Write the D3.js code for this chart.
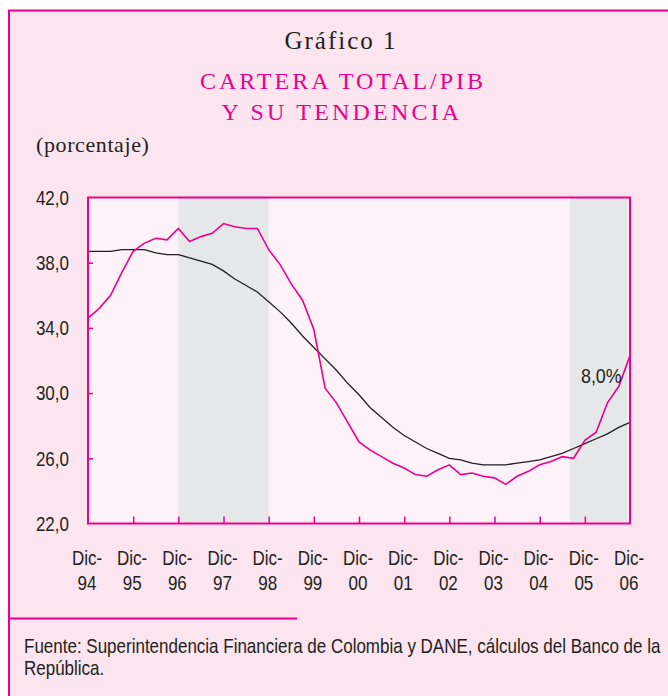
<!DOCTYPE html>
<html lang="es">
<head>
<meta charset="UTF-8">
<title>Cartera total/PIB y su tendencia</title>
<style>
  body { margin: 0; overflow: hidden; background: #fff; }
  .sans { font-family: "Liberation Sans", Arial, sans-serif; fill: #231f20; }
  .serif { font-family: "Liberation Serif", "DejaVu Serif", serif; }
</style>
</head>
<body>
<script src="https://cdnjs.cloudflare.com/ajax/libs/d3/7.8.2/d3.min.js"></script>
<script>
// quarterly observations, Dic-94 .. Dic-06
const cartera = [34.6, 35.2, 36.0, 37.4, 38.7, 39.2, 39.5, 39.4, 40.1, 39.3, 39.6, 39.8,
  40.4, 40.2, 40.1, 40.1, 38.8, 37.9, 36.7, 35.7, 33.9, 30.3, 29.4, 28.2,
  27.0, 26.5, 26.1, 25.7, 25.4, 25.0, 24.9, 25.3, 25.6, 25.0, 25.1, 24.9,
  24.8, 24.4, 24.9, 25.2, 25.6, 25.8, 26.1, 26.0, 27.1, 27.6, 29.4, 30.4, 32.3];
const tendencia = [38.7, 38.7, 38.7, 38.8, 38.8, 38.8, 38.6, 38.5, 38.5, 38.3, 38.1, 37.9,
  37.5, 37.0, 36.6, 36.2, 35.6, 35.0, 34.3, 33.5, 32.8, 32.1, 31.4, 30.6,
  29.9, 29.1, 28.5, 27.9, 27.4, 27.0, 26.6, 26.3, 26.0, 25.9, 25.7, 25.6,
  25.6, 25.6, 25.7, 25.8, 25.9, 26.1, 26.3, 26.6, 26.9, 27.2, 27.5, 27.9, 28.2];
const yearLabels = ["94", "95", "96", "97", "98", "99", "00", "01", "02", "03", "04", "05", "06"];
const yTicks = [22, 26, 30, 34, 38, 42];
// shaded periods, in months counted from Dic-94
const shadeBands = [[24, 48], [128, 143.4]];

const W = 668, H = 696;
const magenta = "#ec008c";
const narrow = 0.85;
const m = { left: 88, right: 630, top: 197.5, bottom: 523.5 };

const svg = d3.select("body").append("svg")
  .attr("width", W).attr("height", H);

// panel
svg.append("rect")
  .attr("x", 9).attr("y", 10.5)
  .attr("width", W + 20).attr("height", H + 20)
  .attr("fill", "#fce5ef")
  .attr("stroke", magenta).attr("stroke-width", 2);

// titles
svg.append("text").attr("class", "serif")
  .attr("x", 341).attr("y", 48.5)
  .attr("text-anchor", "middle")
  .attr("font-size", 25).attr("letter-spacing", 2)
  .attr("fill", "#231f20")
  .text("Gráfico 1");

svg.append("text").attr("class", "serif")
  .attr("x", 343).attr("y", 88.5)
  .attr("text-anchor", "middle")
  .attr("font-size", 24).attr("letter-spacing", 3)
  .attr("fill", magenta)
  .text("CARTERA TOTAL/PIB");

svg.append("text").attr("class", "serif")
  .attr("x", 342).attr("y", 119.5)
  .attr("text-anchor", "middle")
  .attr("font-size", 24).attr("letter-spacing", 3.2)
  .attr("fill", magenta)
  .text("Y SU TENDENCIA");

svg.append("text").attr("class", "serif")
  .attr("x", 36).attr("y", 152)
  .attr("font-size", 22).attr("letter-spacing", 0.6)
  .attr("fill", "#231f20")
  .text("(porcentaje)");

// scales
const x = d3.scaleLinear().domain([0, 144]).range([m.left, m.right]);
const y = d3.scaleLinear().domain([22, 42]).range([m.bottom, m.top]);

const fmt = d3.formatLocale({ decimal: ",", thousands: ".", grouping: [3], currency: ["", ""] }).format(".1f");

svg.append("rect")
  .attr("x", m.left).attr("y", m.top)
  .attr("width", m.right - m.left).attr("height", m.bottom - m.top)
  .attr("fill", "#fdf2f7");

svg.append("g").selectAll("rect")
  .data(shadeBands)
  .join("rect")
  .attr("x", d => x(d[0]))
  .attr("y", m.top)
  .attr("width", d => x(d[1]) - x(d[0]))
  .attr("height", m.bottom - m.top)
  .attr("fill", "#e6e7e9");

// lines
const line = d3.line()
  .x((d, i) => x(i * 3))
  .y(d => y(d));

svg.append("path")
  .datum(tendencia)
  .attr("d", line)
  .attr("fill", "none")
  .attr("stroke", "#231f20")
  .attr("stroke-width", 1.3);

svg.append("path")
  .datum(cartera)
  .attr("d", line)
  .attr("fill", "none")
  .attr("stroke", magenta)
  .attr("stroke-width", 1.6);

// axes
const yAxis = d3.axisRight(y)
  .tickValues(yTicks.slice(1, -1))
  .tickSize(5)
  .tickFormat("");
svg.append("g")
  .attr("transform", `translate(${m.left},0)`)
  .call(yAxis)
  .call(g => g.select(".domain").remove())
  .selectAll("line").attr("stroke", magenta).attr("stroke-width", 1.5);

const xAxis = d3.axisTop(x)
  .tickValues(d3.range(1, yearLabels.length - 1).map(i => i * 12))
  .tickSize(7)
  .tickFormat("");
svg.append("g")
  .attr("transform", `translate(0,${m.bottom})`)
  .call(xAxis)
  .call(g => g.select(".domain").remove())
  .selectAll("line").attr("stroke", magenta).attr("stroke-width", 1.5);

svg.append("rect")
  .attr("x", m.left).attr("y", m.top)
  .attr("width", m.right - m.left).attr("height", m.bottom - m.top)
  .attr("fill", "none")
  .attr("stroke", magenta).attr("stroke-width", 2);

// tick labels (condensed by a horizontal scale)
svg.append("g").selectAll("text")
  .data(yTicks)
  .join("text")
  .attr("class", "sans")
  .attr("transform", d => `translate(69,${y(d)}) scale(${narrow},1)`)
  .attr("dy", "0.36em")
  .attr("text-anchor", "end")
  .attr("font-size", 20)
  .text(d => fmt(d));

const xl = svg.append("g").selectAll("text")
  .data(yearLabels)
  .join("text")
  .attr("class", "sans")
  .attr("text-anchor", "middle")
  .attr("font-size", 20)
  .attr("transform", (d, i) => `translate(${x(i * 12) - 1},0) scale(${narrow},1)`);
xl.append("tspan").attr("x", 0).attr("y", 565).text("Dic-");
xl.append("tspan").attr("x", 0).attr("y", 590).text(d => d);

svg.append("text")
  .attr("class", "sans")
  .attr("transform", `translate(581,383) scale(${narrow},1)`)
  .attr("font-size", 21)
  .text("8,0%");

// source
svg.append("line")
  .attr("x1", 9).attr("x2", 297)
  .attr("y1", 618.5).attr("y2", 618.5)
  .attr("stroke", magenta).attr("stroke-width", 2);

const src = svg.append("text")
  .attr("class", "sans")
  .attr("transform", `translate(24,0) scale(${narrow},1)`)
  .attr("font-size", 20);
src.append("tspan").attr("x", 0).attr("y", 653)
  .text("Fuente: Superintendencia Financiera de Colombia y DANE, cálculos del Banco de la");
src.append("tspan").attr("x", 0).attr("y", 675)
  .text("República.");
</script>
</body>
</html>
